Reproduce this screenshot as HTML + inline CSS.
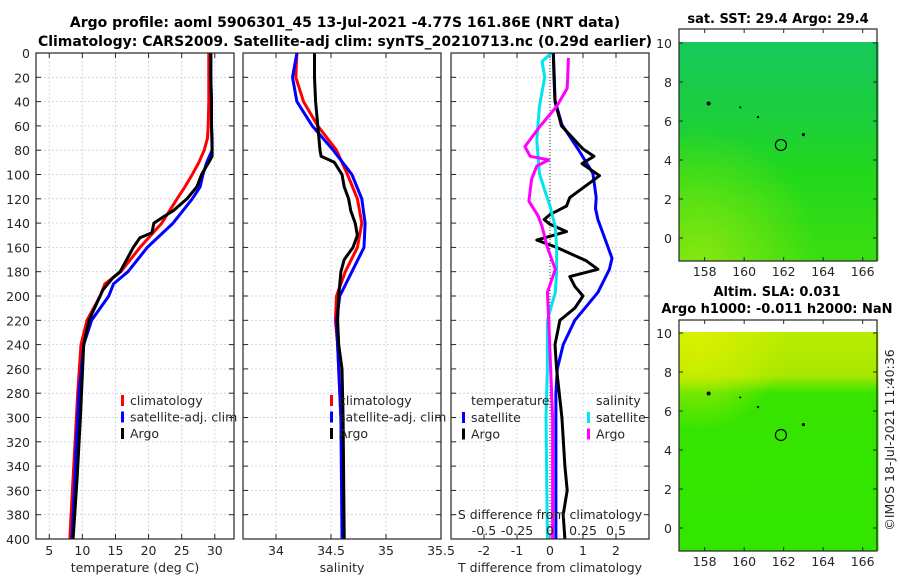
<!DOCTYPE html>
<html><head><meta charset="utf-8"><style>
body{margin:0;background:#fff;}
svg{display:block;font-family:"DejaVu Sans","Liberation Sans",sans-serif;}
.t{font-size:12.5px;fill:#262626;}
.b{font-size:13px;font-weight:bold;fill:#000;}
.bt{font-size:14px;font-weight:bold;fill:#000;}
</style></head><body>
<svg id="c" width="900" height="580" viewBox="0 0 900 580">
<g id="titles">
<text class="bt" x="345" y="27" text-anchor="middle">Argo profile: aoml 5906301_45 13-Jul-2021 -4.77S 161.86E (NRT data)</text>
<text class="bt" x="345" y="46" text-anchor="middle">Climatology: CARS2009. Satellite-adj clim: synTS_20210713.nc (0.29d earlier)</text>
<text class="b" x="778" y="23" text-anchor="middle">sat. SST: 29.4 Argo: 29.4</text>
<text class="b" x="777" y="296" text-anchor="middle">Altim. SLA: 0.031</text>
<text class="b" x="777" y="313" text-anchor="middle">Argo h1000: -0.011 h2000: NaN</text>
<text class="t" x="0" y="0" transform="translate(894,440) rotate(-90)" text-anchor="middle">©IMOS 18-Jul-2021 11:40:36</text>
</g>
</svg>
<script>
// depth axis
const depthTicks=[0,20,40,60,80,100,120,140,160,180,200,220,240,260,280,300,320,340,360,380,400];
// temperature panel
const tempTicks=[5,10,15,20,25,30];
const tDepth=[0,20,40,60,70,80,90,100,110,120,140,160,180,190,200,220,240,280,320,360,400];
const tClim=[29.1,29.1,29.1,29.0,28.9,28.4,27.6,26.6,25.5,24.3,22.0,18.7,15.8,13.4,12.7,10.7,9.8,9.3,8.9,8.5,8.1];
const tSat=[29.4,29.4,29.5,29.5,29.6,29.6,28.8,28.2,27.8,26.6,23.7,19.8,16.9,14.7,14.0,11.4,10.2,9.5,9.1,8.8,8.4];
const argoDepth=[0,20,40,60,80,85,90,100,110,120,130,135,140,148,152,160,170,180,185,195,220,240,300,350,400];
const tArgo=[29.4,29.4,29.5,29.5,29.6,29.6,29.1,28.0,27.3,25.8,23.7,22.2,20.8,20.5,18.7,17.7,16.7,15.7,14.6,13.1,11.0,10.2,9.7,9.2,8.6];
// salinity panel
const salTicks=[34,34.5,35,35.5];
const sDepth=[0,20,40,60,80,100,120,140,160,180,200,220,240,300,400];
const sClim=[34.19,34.18,34.25,34.38,34.55,34.65,34.74,34.78,34.74,34.63,34.55,34.54,34.56,34.59,34.61];
const sSat=[34.19,34.15,34.19,34.33,34.52,34.69,34.78,34.81,34.80,34.69,34.58,34.55,34.56,34.59,34.60];
const sArgoDepth=[0,20,40,60,80,85,90,100,110,120,130,140,150,160,170,180,200,220,240,260,300,400];
const sArgo=[34.35,34.35,34.36,34.38,34.40,34.41,34.53,34.60,34.62,34.66,34.68,34.72,34.74,34.70,34.62,34.59,34.57,34.56,34.57,34.60,34.61,34.62];
// difference panel
const dTicks=[-2,-1,0,1,2];
const dsTicks=[-0.5,-0.25,0,0.25,0.5];
const dsTickLabels=['-0.5','-0.25','0','0.25','0.5'];
const dSatDepth=[0,20,39,59,79,99,119,128,137,160,169,178,197,220,240,260,280,300,400];
const dTSat=[0.1,0.13,0.15,0.36,0.85,1.3,1.4,1.38,1.45,1.76,1.88,1.8,1.45,0.75,0.4,0.22,0.18,0.18,0.18];
const dArgoDepth=[0,20,40,60,79,85,91,101,109,119,126,133,137,141,147,154,160,171,178,184,192,200,210,220,240,260,300,340,360,380,400];
const dTArgo=[0.1,0.12,0.15,0.35,1.0,1.33,0.97,1.5,1.1,0.6,0.5,0,-0.18,0,0.5,-0.4,0.2,1.1,1.45,0.6,0.75,1.0,0.75,0.3,0.15,0.2,0.36,0.45,0.52,0.4,0.45];
const dsSatDepth=[0,7,20,44,72,99,113,126,143,160,181,197,220,260,300,400];
const dSSat=[0.01,-0.06,-0.04,-0.08,-0.1,-0.08,-0.04,0,0.04,0.05,0.05,0.04,-0.02,-0.02,-0.03,-0.02];
const dsArgoDepth=[4,29,44,61,77,85,88,93,104,122,134,143,160,178,197,220,300,400];
const dSArgo=[0.14,0.13,0.05,-0.08,-0.19,-0.15,-0.01,-0.1,-0.14,-0.16,-0.09,-0.06,-0.02,0.04,-0.02,-0.01,0.02,0.02];
// maps
const lonTicks=[158,160,162,164,166];
const latTicks=[0,2,4,6,8,10];
const argoLon=161.86, argoLat=4.77;

(function(){
const NS='http://www.w3.org/2000/svg';
const svg=document.getElementById('c');
function mk(tag,attrs,parent){const e=document.createElementNS(NS,tag);for(const k in attrs)e.setAttribute(k,attrs[k]);(parent||svg).appendChild(e);return e;}
function txt(s,x,y,anchor,parent,cls){const e=mk('text',{x:x,y:y,'text-anchor':anchor||'middle',class:cls||'t'},parent);e.textContent=s;return e;}

const yTop=53, yBot=539;
const yD=d=>yTop+d*(yBot-yTop)/400;

function panel(name,x0,x1,xmin,xmax,ticks,labels,xlabel){
  const g=mk('g',{});
  
  
  const sx=v=>x0+(v-xmin)*(x1-x0)/(xmax-xmin);
  depthTicks.forEach(d=>{const l=mk('line',{x1:x0,x2:x1,y1:yD(d),y2:yD(d),stroke:'#c8cdea','stroke-width':0.8,'stroke-dasharray':'2,2'},g);
    
    });
  ticks.forEach(v=>{const l=mk('line',{x1:sx(v),x2:sx(v),y1:yTop,y2:yBot,stroke:'#c8cdea','stroke-width':0.8,'stroke-dasharray':'2,2'},g);
    
    });
  depthTicks.forEach(d=>{mk('line',{x1:x0,x2:x0+5,y1:yD(d),y2:yD(d),stroke:'#262626'},g);mk('line',{x1:x1,x2:x1-5,y1:yD(d),y2:yD(d),stroke:'#262626'},g);});
  ticks.forEach((v,i)=>{mk('line',{x1:sx(v),x2:sx(v),y1:yBot,y2:yBot-5,stroke:'#262626'},g);mk('line',{x1:sx(v),x2:sx(v),y1:yTop,y2:yTop+5,stroke:'#262626'},g);
    const t=txt(labels[i],sx(v),555,'middle',g);
    
    });
  const xl=txt(xlabel,(x0+x1)/2,572,'middle',g);
  
  
  return {g,sx};
}
function line(g,sx,depths,vals,color,name,w){
  const pts=depths.map((d,i)=>sx(vals[i]).toFixed(1)+','+yD(d).toFixed(1)).join(' ');
  const p=mk('polyline',{points:pts,fill:'none',stroke:color,'stroke-width':w||3,'stroke-linejoin':'round'},g);
  
  
}
function frame(g,x0,x1){const r=mk('rect',{x:x0,y:yTop,width:x1-x0,height:yBot-yTop,fill:'none',stroke:'#262626','stroke-width':1.2},g);
  
  }
function legend(g,x,y,items){
  items.forEach((it,i)=>{mk('rect',{x:x-9,y:y+i*16.5-10,width:3,height:11,fill:it[1]},g);
    const t=txt(it[0],x,y+i*16.5,'start',g);
    
    });
}

const p1=panel('temperature-panel',36,234,3,32.9,tempTicks,tempTicks.map(String),'temperature (deg C)');
depthTicks.forEach(d=>{const t=txt(String(d),30,yD(d)+5,'end',p1.g);
  
  });
line(p1.g,p1.sx,tDepth,tClim,'#ff0000','temp-climatology-line');
line(p1.g,p1.sx,tDepth,tSat,'#0000ff','temp-satellite-line');
line(p1.g,p1.sx,argoDepth,tArgo,'#000000','temp-argo-line');
frame(p1.g,36,234);
legend(p1.g,130,405,[['climatology','#ff0000'],['satellite-adj. clim','#0000ff'],['Argo','#000']]);

const p2=panel('salinity-panel',243,441,33.7,35.5,salTicks,['34','34.5','35','35.5'],'salinity');
line(p2.g,p2.sx,sDepth,sClim,'#ff0000','sal-climatology-line');
line(p2.g,p2.sx,sDepth,sSat,'#0000ff','sal-satellite-line');
line(p2.g,p2.sx,sArgoDepth,sArgo,'#000000','sal-argo-line');
frame(p2.g,243,441);
legend(p2.g,339,405,[['climatology','#ff0000'],['satellite-adj. clim','#0000ff'],['Argo','#000']]);

const p3=panel('difference-panel',451,649,-3,3,dTicks,dTicks.map(String),'T difference from climatology');
const sxS=v=>p3.sx(v*4);
mk('line',{x1:p3.sx(0),x2:p3.sx(0),y1:yTop,y2:yBot,stroke:'#333','stroke-width':1,'stroke-dasharray':'1,2'},p3.g);
line(p3.g,p3.sx,dSatDepth,dTSat,'#0000ff','tdiff-satellite-line');
line(p3.g,p3.sx,dArgoDepth,dTArgo,'#000000','tdiff-argo-line');
line(p3.g,sxS,dsSatDepth,dSSat,'#00e5ee','sdiff-satellite-line');
line(p3.g,sxS,dsArgoDepth,dSArgo,'#ff00ff','sdiff-argo-line');
frame(p3.g,451,649);
txt('temperature',471,405,'start',p3.g);
legend(p3.g,471,422,[['satellite','#0000ff'],['Argo','#000']]);
txt('salinity',596,405,'start',p3.g);
legend(p3.g,596,422,[['satellite','#00e5ee'],['Argo','#ff00ff']]);
const st=txt('S difference from climatology',550,519,'middle',p3.g);


dsTicks.forEach((v,i)=>{const t=txt(dsTickLabels[i],sxS(v),535,'middle',p3.g);
  
  });

const defs=mk('defs',{});
defs.innerHTML='<linearGradient id="g1" x1="0" y1="0" x2="0" y2="1"><stop offset="0" stop-color="#14c95a"/><stop offset="0.35" stop-color="#1ccf3c"/><stop offset="0.6" stop-color="#22d81c"/><stop offset="1" stop-color="#3ade10"/></linearGradient>'+
'<radialGradient id="g1b" cx="0.1" cy="1" r="0.6"><stop offset="0" stop-color="#8ee810" stop-opacity="0.9"/><stop offset="1" stop-color="#8ee810" stop-opacity="0"/></radialGradient>'+
'<linearGradient id="g2" x1="0" y1="0" x2="0" y2="1"><stop offset="0" stop-color="#b8ec00"/><stop offset="0.2" stop-color="#a8e800"/><stop offset="0.28" stop-color="#36e400"/><stop offset="1" stop-color="#32e600"/></linearGradient>'+
'<radialGradient id="g2b" cx="0.1" cy="0" r="0.45"><stop offset="0" stop-color="#dcf000"/><stop offset="1" stop-color="#dcf000" stop-opacity="0"/></radialGradient>';

function map(name,fy0,fy1,y0lat,fills){
  const g=mk('g',{});
  
  
  const mx0=679,mx1=877;
  const sx=l=>mx0+(l-156.7)*19.75;
  const sy=l=>y0lat-l*19.5;
  const gtop=sy(10.05), gr=sx(166.8);
  fills.forEach(f=>mk('rect',{x:mx0,y:gtop,width:gr-mx0,height:fy1-gtop,fill:f},g));
  mk('rect',{x:mx0,y:fy0,width:mx1-mx0,height:fy1-fy0,fill:'none',stroke:'#262626','stroke-width':1.2},g);
  lonTicks.forEach(v=>{mk('line',{x1:sx(v),x2:sx(v),y1:fy1,y2:fy1-4,stroke:'#262626'},g);mk('line',{x1:sx(v),x2:sx(v),y1:fy0,y2:fy0+4,stroke:'#262626'},g);
    const t=txt(String(v),sx(v),fy1+15,'middle',g);
    
    });
  latTicks.forEach(v=>{mk('line',{x1:mx0,x2:mx0+4,y1:sy(v),y2:sy(v),stroke:'#262626'},g);mk('line',{x1:mx1,x2:mx1-4,y1:sy(v),y2:sy(v),stroke:'#262626'},g);
    const t=txt(String(v),672,sy(v)+5,'end',g);
    
    });
  const c=mk('circle',{cx:sx(argoLon),cy:sy(argoLat),r:5.5,fill:'none',stroke:'#000','stroke-width':1.2},g);
  
  
  [[158.2,6.9,2],[160.7,6.2,1.2],[163,5.3,1.6],[159.8,6.7,1]].forEach(p=>mk('circle',{cx:sx(p[0]),cy:sy(p[1]),r:p[2],fill:'#000'},g));
}
map('sst-map',29,261,238,['url(#g1)','url(#g1b)']);
map('sla-map',320,551,528,['url(#g2)','url(#g2b)']);
})();
</script>
</body></html>
